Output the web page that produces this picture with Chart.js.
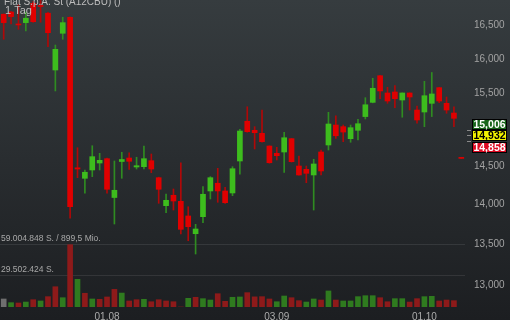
<!DOCTYPE html>
<html>
<head>
<meta charset="utf-8">
<script src="https://cdn.jsdelivr.net/npm/chart.js@4.4.0/dist/chart.umd.min.js"></script>
<style>
  html, body { margin: 0; padding: 0; background: #26292c; }
  #wrap { position: relative; width: 510px; height: 320px; }
</style>
</head>
<body>
<div id="wrap"><canvas id="kurs"></canvas></div>
<script>
// ── Daten ──────────────────────────────────────────────────────
const tage = [
  '12.07','15.07','16.07','17.07','18.07','19.07','22.07','23.07','24.07','25.07','26.07','29.07','30.07','31.07',
  '01.08','02.08','05.08','06.08','07.08','08.08','09.08','12.08','13.08','14.08','15.08','16.08','19.08','20.08',
  '21.08','22.08','23.08','26.08','27.08','28.08','29.08','30.08',
  '02.09','03.09','04.09','05.09','06.09','09.09','10.09','11.09','12.09','13.09','16.09','17.09','18.09','19.09',
  '20.09','23.09','24.09','25.09','26.09','27.09','30.09',
  '01.10','02.10','03.10','04.10','07.10','08.10'
];

const open  = [16674,16709,16526,16546,16843,16809,16690,15841,16385,16628,
               14479,14340,14450,14543,14601,14089,14563,14610,14490,14494,
               14574,14348,13984,14118,14040,13852,13628,13843,14174,14275,
               14174,14148,14570,15112,14987,14945,14772,14673,14691,14872,
               14503,14459,14384,14691,14786,15060,15037,14872,14987,15177,
               15377,15758,15510,15524,15410,15510,15269,15241,15363,15586,
               15363,15227,14615];
const high  = [16680,16715,16817,16709,16870,16886,16705,16209,16628,16635,
               14749,14450,14776,14673,14610,14570,14687,14681,14620,14772,
               14664,14355,14135,14200,14547,13970,13746,14230,14362,14472,
               14222,14494,15001,15315,15037,15269,14775,14754,14959,14875,
               14637,14503,14593,14718,15237,15189,15060,15060,15140,15443,
               15721,15765,15592,15615,15512,15512,15325,15677,15805,15590,
               15453,15315,14615];
const low   = [16295,16526,16445,16420,16550,16552,16184,15539,16295,13823,
               14348,14144,14362,14450,14144,13750,14340,14459,14463,14463,
               14414,14014,13894,13928,13624,13540,13376,13767,14070,14027,
               14014,14113,14393,14960,14732,14825,14540,14583,14419,14555,
               14380,14282,13928,14384,14718,14877,14831,14823,14854,15144,
               15370,15429,15363,15302,15168,15269,15084,15037,15177,15372,
               15223,15037,14605];
const close = [16546,16638,16511,16613,16561,16794,16394,16145,16546,13971,
               14463,14420,14628,14579,14196,14183,14590,14566,14507,14601,
               14463,14196,14053,14044,13683,13716,13687,14131,14348,14174,
               14022,14467,14977,14968,14954,14831,14547,14641,14885,14561,
               14384,14406,14530,14437,15074,14912,14963,15023,15078,15343,
               15577,15539,15396,15429,15510,15453,15130,15471,15496,15396,
               15269,15153,14605];

const volumen = [7600000,4100000,3800000,4700000,6900000,5700000,9800000,19200000,8800000,59004848,
                 26200000,13000000,7600000,7300000,9500000,16700000,13200000,5700000,6900000,7300000,
                 5000000,6900000,5700000,5000000,0,8200000,9200000,7900000,6600000,12600000,
                 5400000,9200000,9500000,13600000,9600000,9800000,7600000,5000000,10400000,8800000,
                 6000000,4700000,7600000,6600000,15200000,6600000,5700000,5700000,9800000,10700000,
                 10700000,8800000,5000000,7900000,7900000,4700000,7900000,9800000,10100000,5700000,
                 6600000,6000000,null];

const xLabels   = ['01.08', '03.09', '01.10'];
const yTicks    = [13000, 13500, 14000, 14500, 15000, 15500, 16000, 16500];
const volTicks  = [29502424, 59004848];
const volLabels = ['29.502.424 S.', '59.004.848 S. / 899,5 Mio.'];
const quotes    = [15006, 14932, 14858];

// ── Farben ──────────────────────────────────────────────────────
const UP_BODY = '#3dbd1d', UP_WICK = '#2f8c21';
const DN_BODY = '#e00000', DN_WICK = '#b00808';
const FONT = "Arial, 'Liberation Sans', sans-serif";

const isUp = tage.map((_, i) => close[i] >= open[i]);
const volColors = volumen.map((v, i) => {
  if (i === 0) return '#6f6f6f';
  return close[i] >= close[i - 1] ? '#2f7b1f' : '#8e1a1a';
});

// keine Extra-Ränder durch die Achsen (sonst rutscht die Chartfläche)
function noPad(s) {
  s.paddingTop = 0; s.paddingBottom = 0;
  s.paddingLeft = 0; s.paddingRight = 0;
}

// ── Hintergrund + Texte ─────────────────────────────────────────
const bgPlugin = {
  id: 'bg',
  beforeDraw(chart) {
    const { ctx, width, height } = chart;
    const g = ctx.createLinearGradient(0, 0, 0, height);
    g.addColorStop(0, '#363c3f');
    g.addColorStop(1, '#1c1e21');
    ctx.save();
    ctx.fillStyle = g;
    ctx.fillRect(0, 0, width, height);
    ctx.restore();
  }
};

const overlayPlugin = {
  id: 'overlay',
  afterDraw(chart) {
    const { ctx } = chart;
    const y = chart.scales.y;
    ctx.save();

    // Titel oben links (halb abgeschnitten wie im Original)
    ctx.fillStyle = '#bdbdbd';
    ctx.font = '10px ' + FONT;
    ctx.textBaseline = 'alphabetic';
    ctx.textAlign = 'left';
    ctx.fillText('Fiat S.p.A. St (A12CBU) ()', 4, 5);
    ctx.font = '11px ' + FONT;
    ctx.fillText('1 Tag', 5, 13.5);

    // Kurs-Kästchen rechts
    const styles = [
      { bg: '#17651a', fg: '#ffffff' },
      { bg: '#f2f200', fg: '#000000' },
      { bg: '#dc0a22', fg: '#ffffff' }
    ];
    ctx.strokeStyle = '#8a8a8a';
    ctx.lineWidth = 1;
    quotes.forEach(q => {
      const py = Math.round(y.getPixelForValue(q)) + 1.5;
      ctx.beginPath();
      ctx.moveTo(467, py);
      ctx.lineTo(471, py);
      ctx.stroke();
    });
    const mid = y.getPixelForValue(quotes[1]) + 1.5;
    const h = 11;
    quotes.forEach((q, i) => {
      const cy = mid + (i - 1) * (h + 0.5);
      const top = Math.round(cy - h / 2);
      ctx.fillStyle = styles[i].bg;
      ctx.fillRect(472, top, 35, h);
      ctx.strokeStyle = '#000';
      ctx.strokeRect(472.5, top + 0.5, 34, h - 1);
      ctx.fillStyle = styles[i].fg;
      ctx.font = 'bold 10.5px ' + FONT;
      ctx.textAlign = 'center';
      ctx.textBaseline = 'middle';
      ctx.fillText(q.toLocaleString('en-US'), 489.5, top + h / 2 + 0.5);
    });
    ctx.restore();
  }
};

// ── Chart ───────────────────────────────────────────────────────
new Chart(document.getElementById('kurs'), {
  type: 'bar',
  data: {
    labels: tage,
    datasets: [
      {
        label: 'Körper',
        data: tage.map((_, i) => [open[i], close[i]]),
        backgroundColor: isUp.map(u => u ? UP_BODY : DN_BODY),
        barThickness: 5,
        minBarLength: 1,
        grouped: false,
        yAxisID: 'y',
        order: 0
      },
      {
        label: 'Docht',
        data: tage.map((_, i) => [low[i], high[i]]),
        backgroundColor: isUp.map(u => u ? UP_WICK : DN_WICK),
        barThickness: 1,
        grouped: false,
        yAxisID: 'y',
        order: 1
      },
      {
        label: 'Volumen',
        data: volumen,
        backgroundColor: volColors,
        barThickness: 5,
        grouped: false,
        yAxisID: 'vol',
        order: 2
      }
    ]
  },
  options: {
    responsive: true,
    maintainAspectRatio: false,
    animation: false,
    devicePixelRatio: 1,
    layout: { padding: 0 },
    plugins: { legend: { display: false }, tooltip: { enabled: false } },
    scales: {
      x: {
        type: 'category',
        offset: true,
        grid: { display: false, drawTicks: false },
        border: { display: false },
        afterFit: s => { s.height = 13; noPad(s); },
        ticks: {
          autoSkip: false,
          maxRotation: 0,
          padding: 4,
          color: '#acacac',
          font: { size: 10, family: FONT },
          callback: (v, i) => xLabels.includes(tage[i]) ? tage[i] : null
        }
      },
      y: {
        type: 'logarithmic',
        position: 'right',
        min: 12740,
        max: 16894,
        grid: { display: false, drawTicks: false },
        border: { display: false },
        afterFit: s => { s.width = 45; noPad(s); },
        afterBuildTicks: s => { s.ticks = yTicks.map(v => ({ value: v })); },
        ticks: {
          padding: 9,
          color: '#a3a3a3',
          font: { size: 10, family: FONT },
          callback: v => Number(v).toLocaleString('en-US')
        }
      },
      vol: {
        type: 'linear',
        position: 'left',
        min: 0,
        max: 290760000,
        grid: { color: 'rgba(255,255,255,0.09)', drawTicks: false },
        border: { display: false },
        afterFit: s => { s.width = 0; noPad(s); },
        afterBuildTicks: s => { s.ticks = volTicks.map(v => ({ value: v })); },
        ticks: {
          mirror: true,
          padding: 1,
          labelOffset: -6,
          color: '#a8a8a8',
          font: { size: 8.5, family: FONT },
          callback: v => volLabels[volTicks.indexOf(v)]
        }
      }
    }
  },
  plugins: [bgPlugin, overlayPlugin]
});
</script>
</body>
</html>
